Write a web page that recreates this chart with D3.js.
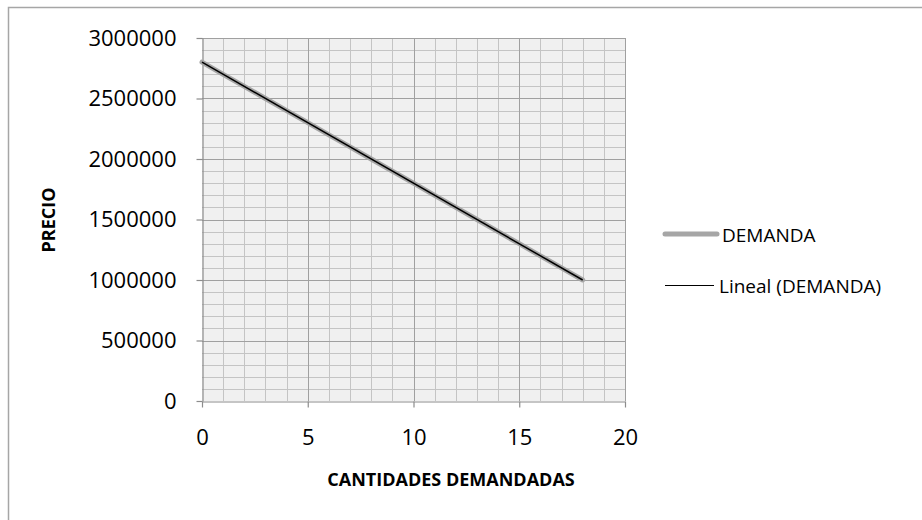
<!DOCTYPE html>
<html>
<head>
<meta charset="utf-8">
<script src="https://cdn.jsdelivr.net/npm/d3@7"></script>
<style>
  html, body { margin: 0; padding: 0; background: #fff; }
  svg { display: block; font-family: "Open Sans", "Liberation Sans", sans-serif; }
</style>
</head>
<body>
<svg id="chart" width="922" height="520"></svg>
<script>
// Demand schedule: quantity demanded vs. price
const cantidades = [0, 1, 2, 3, 4, 5, 6, 7, 8, 9, 10, 11, 12, 13, 14, 15, 16, 17, 18];
const precios = [2800000, 2700000, 2600000, 2500000, 2400000, 2300000, 2200000, 2100000, 2000000,
                 1900000, 1800000, 1700000, 1600000, 1500000, 1400000, 1300000, 1200000, 1100000, 1000000];
const xTicks = [0, 5, 10, 15, 20];
const yTicks = [0, 500000, 1000000, 1500000, 2000000, 2500000, 3000000];
const seriesNames = ["DEMANDA", "Lineal (DEMANDA)"];

const svg = d3.select("#chart");
const W = 922, H = 520;

// outer chart frame
svg.append("rect")
  .attr("x", 8.5).attr("y", 7.5).attr("width", W).attr("height", H)
  .attr("fill", "#fff").attr("stroke", "#a6a6a6").attr("stroke-width", 1.5);

const x = d3.scaleLinear().domain([0, 20]).range([202, 625]);
const y = d3.scaleLinear().domain([0, 3000000]).range([401, 38]);

// plot area
svg.append("rect")
  .attr("x", x(0)).attr("y", y(3000000))
  .attr("width", x(20) - x(0)).attr("height", y(0) - y(3000000))
  .attr("fill", "#f0f0f0");

// minor gridlines
const minorX = d3.range(0, 21, 1).filter(v => v % 5 !== 0);
const minorY = d3.range(0, 3000001, 100000).filter(v => v % 500000 !== 0);
const grid = svg.append("g");
grid.selectAll(".mx").data(minorX).join("line")
  .attr("x1", d => Math.round(x(d)) + 0.5).attr("x2", d => Math.round(x(d)) + 0.5)
  .attr("y1", y(3000000)).attr("y2", y(0))
  .attr("stroke", "#c4c4c4").attr("stroke-width", 1);
grid.selectAll(".my").data(minorY).join("line")
  .attr("y1", d => Math.round(y(d)) + 0.5).attr("y2", d => Math.round(y(d)) + 0.5)
  .attr("x1", x(0)).attr("x2", x(20))
  .attr("stroke", "#c4c4c4").attr("stroke-width", 1);
// major gridlines
grid.selectAll(".Mx").data(xTicks.filter(v => v > 0)).join("line")
  .attr("x1", d => Math.round(x(d)) + 0.5).attr("x2", d => Math.round(x(d)) + 0.5)
  .attr("y1", y(3000000)).attr("y2", y(0))
  .attr("stroke", "#a0a0a0").attr("stroke-width", 1);
grid.selectAll(".My").data(yTicks.filter(v => v > 0)).join("line")
  .attr("y1", d => Math.round(y(d)) + 0.5).attr("y2", d => Math.round(y(d)) + 0.5)
  .attr("x1", x(0)).attr("x2", x(20))
  .attr("stroke", "#a0a0a0").attr("stroke-width", 1);

// axes
const xAxis = d3.axisBottom(x).tickValues(xTicks).tickFormat(d3.format("d"))
  .tickSize(6).tickPadding(22).tickSizeOuter(0);
const yAxis = d3.axisLeft(y).tickValues(yTicks).tickFormat(d3.format("d"))
  .tickSize(6).tickPadding(20).tickSizeOuter(0);

const gx = svg.append("g").attr("transform", `translate(0,${Math.round(y(0)) + 0.5})`).call(xAxis);
const gy = svg.append("g").attr("transform", `translate(${Math.round(x(0)) + 0.5},0)`).call(yAxis);
[gx, gy].forEach(g => {
  g.select(".domain").attr("stroke", "#8c8c8c").attr("stroke-width", 1.2);
  g.selectAll(".tick line").attr("stroke", "#8c8c8c").attr("stroke-width", 1.2);
  g.selectAll(".tick text").attr("fill", "#000").style("font-size", "22px")
    .style("font-family", '"Open Sans", sans-serif');
});

// data series
const pts = cantidades.map((c, i) => [c, precios[i]]);
const line = d3.line().x(d => x(d[0])).y(d => y(d[1]));
svg.append("path").datum(pts)
  .attr("d", line).attr("fill", "none")
  .attr("stroke", "#a6a6a6").attr("stroke-width", 5)
  .attr("stroke-linecap", "round").attr("stroke-linejoin", "round");

// linear trendline (least squares)
const mx = d3.mean(pts, d => d[0]), my = d3.mean(pts, d => d[1]);
const slope = d3.sum(pts, d => (d[0] - mx) * (d[1] - my)) / d3.sum(pts, d => (d[0] - mx) ** 2);
const icpt = my - slope * mx;
const xmin = d3.min(cantidades), xmax = d3.max(cantidades);
svg.append("path").datum([[xmin, icpt + slope * xmin], [xmax, icpt + slope * xmax]])
  .attr("d", line).attr("fill", "none")
  .attr("stroke", "#000").attr("stroke-width", 1.5);

// axis titles
svg.append("text").attr("x", 451).attr("y", 486)
  .attr("text-anchor", "middle").style("font-size", "18px").style("font-weight", "bold")
  .text("CANTIDADES DEMANDADAS");
svg.append("text").attr("transform", "translate(55,220) rotate(-90)")
  .attr("text-anchor", "middle").style("font-size", "18px").style("font-weight", "bold")
  .text("PRECIO");

// legend
const legend = svg.append("g");
legend.append("line").attr("x1", 665).attr("x2", 717).attr("y1", 234).attr("y2", 234)
  .attr("stroke", "#a6a6a6").attr("stroke-width", 5).attr("stroke-linecap", "round");
legend.append("text").attr("x", 722).attr("y", 242).style("font-size", "19px").text(seriesNames[0]);
legend.append("line").attr("x1", 665).attr("x2", 714).attr("y1", 285.5).attr("y2", 285.5)
  .attr("stroke", "#000").attr("stroke-width", 1.2);
legend.append("text").attr("x", 719).attr("y", 293).style("font-size", "19px").text(seriesNames[1]);
</script>
</body>
</html>
